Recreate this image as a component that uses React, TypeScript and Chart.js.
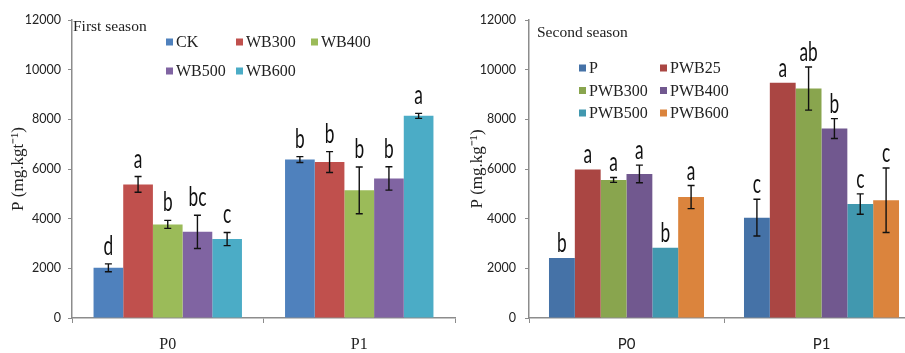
import React, { useEffect, useRef } from "react";
import { Chart, registerables } from "chart.js";

Chart.register(...registerables);

// ---------- data ----------
const categories = ["P0", "P1"];

// First season
const s1Names = ["CK", "WB300", "WB400", "WB500", "WB600"];
const s1CK = [2020, 6380];
const s1WB300 = [5380, 6280];
const s1WB400 = [3770, 5140];
const s1WB500 = [3470, 5620];
const s1WB600 = [3180, 8140];
const s1ErrCK = [160, 120];
const s1ErrWB300 = [315, 420];
const s1ErrWB400 = [160, 940];
const s1ErrWB500 = [670, 470];
const s1ErrWB600 = [265, 100];
const s1LetCK = ["d", "b"];
const s1LetWB300 = ["a", "b"];
const s1LetWB400 = ["b", "b"];
const s1LetWB500 = ["bc", "b"];
const s1LetWB600 = ["c", "a"];

// Second season
const s2Names = ["P", "PWB25", "PWB300", "PWB400", "PWB500", "PWB600"];
const s2P = [2420, 4040];
const s2PWB25 = [5980, 9470];
const s2PWB300 = [5560, 9240];
const s2PWB400 = [5800, 7630];
const s2PWB500 = [2830, 4590];
const s2PWB600 = [4870, 4740];
const s2ErrP = [0, 740];
const s2ErrPWB25 = [0, 0];
const s2ErrPWB300 = [100, 870];
const s2ErrPWB400 = [355, 400];
const s2ErrPWB500 = [0, 410];
const s2ErrPWB600 = [465, 1300];
const s2LetP = ["b", "c"];
const s2LetPWB25 = ["a", "a"];
const s2LetPWB300 = ["a", "ab"];
const s2LetPWB400 = ["a", "b"];
const s2LetPWB500 = ["b", "c"];
const s2LetPWB600 = ["a", "c"];

const yTicks = [0, 2000, 4000, 6000, 8000, 10000, 12000];

// ---------- styles ----------
const s1Colors = ["#4F81BD", "#C0504D", "#9BBB59", "#8064A2", "#4BACC6"];
const s2Colors = ["#4572A7", "#AA4643", "#89A54E", "#71588F", "#4198AF", "#DB843D"];
const AXIS = "#8c8c8c";
const SERIF = "'Liberation Serif', 'Times New Roman', serif";
const SANS = "Lato, 'Open Sans', sans-serif";

const annotPlugin = {
  id: "annot",
  afterDatasetsDraw(chart: any, _args: any, opts: any) {
    const ctx = chart.ctx;
    const y = chart.scales.y;
    const area = chart.chartArea;
    ctx.save();
    // error bars + letters
    chart.data.datasets.forEach((ds: any, i: number) => {
      const meta = chart.getDatasetMeta(i);
      meta.data.forEach((el: any, j: number) => {
        const v = ds.data[j];
        const e = ds.errors[j];
        const top = y.getPixelForValue(v + e);
        if (e > 0) {
          const bot = y.getPixelForValue(v - e);
          ctx.strokeStyle = "#111";
          ctx.lineWidth = 1.4;
          ctx.beginPath();
          ctx.moveTo(el.x, top);
          ctx.lineTo(el.x, bot);
          ctx.moveTo(el.x - 3.5, top);
          ctx.lineTo(el.x + 3.5, top);
          ctx.moveTo(el.x - 3.5, bot);
          ctx.lineTo(el.x + 3.5, bot);
          ctx.stroke();
        }
        ctx.save();
        ctx.translate(el.x, top - opts.letterGap);
        ctx.scale(0.64, 1);
        ctx.font = "27px " + SANS;
        ctx.fillStyle = "#111";
        ctx.textAlign = "center";
        ctx.textBaseline = "alphabetic";
        ctx.fillText(ds.letters[j], 0, 0);
        ctx.restore();
      });
    });
    // season title
    ctx.font = "15.5px " + SERIF;
    ctx.fillStyle = "#222";
    ctx.textAlign = "left";
    ctx.textBaseline = "middle";
    ctx.fillText(opts.title, area.left + opts.titleDx, opts.titleY);
    // legend
    ctx.font = "16px " + SERIF;
    chart.data.datasets.forEach((ds: any, i: number) => {
      const row = Math.floor(i / opts.perRow);
      const col = i % opts.perRow;
      const sx = area.left + opts.legendCols[col];
      const sy = opts.legendY + row * opts.legendRowGap;
      ctx.fillStyle = ds.backgroundColor;
      ctx.fillRect(sx, sy - 3.5, 7, 7);
      ctx.fillStyle = "#222";
      ctx.fillText(ds.label, sx + 10, sy + 1);
    });
    ctx.restore();
  },
};

function buildConfig(
  names: string[],
  values: number[][],
  errors: number[][],
  letters: string[][],
  colors: string[],
  s: any
): any {
  return {
    type: "bar",
    data: {
      labels: categories,
      datasets: names.map((n, i) => ({
        label: n,
        data: values[i],
        errors: errors[i],
        letters: letters[i],
        backgroundColor: colors[i],
        borderWidth: 0,
        categoryPercentage: s.catPct,
        barPercentage: 1,
      })),
    },
    options: {
      animation: false,
      responsive: false,
      maintainAspectRatio: false,
      layout: { padding: { left: 0, right: s.padRight, top: 20, bottom: 0 } },
      plugins: {
        legend: { display: false },
        tooltip: { enabled: false },
        annot: s.annot,
      },
      scales: {
        x: {
          offset: true,
          grid: {
            offset: true,
            drawOnChartArea: false,
            drawTicks: true,
            tickLength: 5,
            color: AXIS,
          },
          border: { color: AXIS, width: 1.5 },
          ticks: { padding: 12, color: "#222", font: s.catFont },
          afterFit: (sc: any) => {
            sc.height = 35;
          },
        },
        y: {
          min: 0,
          max: 12000,
          afterBuildTicks: (sc: any) => {
            sc.ticks = yTicks.map((v) => ({ value: v }));
          },
          grid: { drawOnChartArea: false, tickLength: 4, color: AXIS },
          border: { color: AXIS, width: 1.5 },
          ticks: {
            padding: s.tickPad,
            color: "#222",
            font: { family: SANS, size: 12.5 },
            callback: (v: any) => String(v),
          },
          title: {
            display: true,
            text: s.yTitle,
            color: "#222",
            font: { family: SERIF, size: 17 },
            padding: { top: s.yTitlePad, bottom: 0 },
          },
          afterFit: (sc: any) => {
            sc.width = s.yWidth;
          },
        },
      },
    },
    plugins: [annotPlugin],
  };
}

function ChartCanvas({ cfg, width, left }: { cfg: () => any; width: number; left: number }) {
  const ref = useRef<HTMLCanvasElement | null>(null);
  useEffect(() => {
    document.body.style.margin = "0";
    if (!ref.current) return;
    const chart = new Chart(ref.current, cfg());
    return () => chart.destroy();
  }, []);
  return (
    <canvas
      ref={ref}
      width={width}
      height={353}
      style={{ position: "absolute", left, top: 0, width, height: 353 }}
    />
  );
}

export default function App() {
  const cfg1 = () =>
    buildConfig(
      s1Names,
      [s1CK, s1WB300, s1WB400, s1WB500, s1WB600],
      [s1ErrCK, s1ErrWB300, s1ErrWB400, s1ErrWB500, s1ErrWB600],
      [s1LetCK, s1LetWB300, s1LetWB400, s1LetWB500, s1LetWB600],
      s1Colors,
      {
        catPct: 0.775,
        padRight: 5,
        yWidth: 72,
        tickPad: 7,
        yTitle: "P (mg.kgt\u207B\u00B9)",
        yTitlePad: 8,
        catFont: { family: SERIF, size: 16 },
        annot: {
          letterGap: 9,
          title: "First season",
          titleDx: 1,
          titleY: 27,
          legendCols: [94, 164, 239],
          perRow: 3,
          legendY: 42,
          legendRowGap: 29,
        },
      }
    );
  const cfg2 = () =>
    buildConfig(
      s2Names,
      [s2P, s2PWB25, s2PWB300, s2PWB400, s2PWB500, s2PWB600],
      [s2ErrP, s2ErrPWB25, s2ErrPWB300, s2ErrPWB400, s2ErrPWB500, s2ErrPWB600],
      [s2LetP, s2LetPWB25, s2LetPWB300, s2LetPWB400, s2LetPWB500, s2LetPWB600],
      s2Colors,
      {
        catPct: 0.795,
        padRight: 11,
        yWidth: 69,
        tickPad: 9,
        yTitle: "P (mg.kg\u207B\u00B9)",
        yTitlePad: 7,
        catFont: { family: SANS, size: 15 },
        annot: {
          letterGap: 6,
          title: "Second season",
          titleDx: 8,
          titleY: 33,
          legendCols: [50, 131],
          perRow: 2,
          legendY: 68,
          legendRowGap: 22.5,
        },
      }
    );
  return (
    <div
      style={{
        position: "relative",
        width: 905,
        height: 353,
        overflow: "hidden",
        background: "#fff",
      }}
    >
      <ChartCanvas cfg={cfg1} width={460} left={0} />
      <ChartCanvas cfg={cfg2} width={470} left={460} />
    </div>
  );
}
